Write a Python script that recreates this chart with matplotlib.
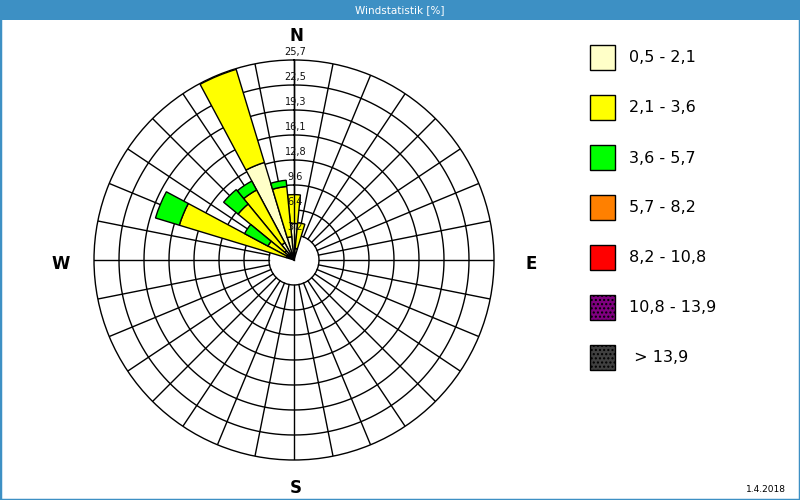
import numpy as np
import matplotlib
matplotlib.use("Agg")
import matplotlib.pyplot as plt
from matplotlib.patches import Rectangle

# ---- data ----
directions_deg = [0.0, 11.25, 348.75, 337.5, 326.25, 315.0, 303.75, 292.5]
class_labels = ["0,5 - 2,1", "2,1 - 3,6", "3,6 - 5,7", "5,7 - 8,2",
                "8,2 - 10,8", "10,8 - 13,9", " > 13,9"]
class_colors = ["#ffffc8", "#ffff00", "#00ff00", "#ff8000",
                "#ff0000", "#800080", "#404040"]
# percentage per class and direction (stacked)
cls_05_21 = [4.7, 1.5, 3.0, 13.1, 2.5, 1.5, 1.0, 1.0]
cls_21_36 = [3.7, 3.3, 6.5, 12.5, 7.7, 7.8, 2.8, 14.4]
cls_36_57 = [0.0, 0.0, 0.8, 0.0, 1.3, 2.4, 3.4, 3.2]
ring_labels = ["3,2", "6,4", "9,6", "12,8", "16,1", "19,3", "22,5", "25,7"]
r_max = 25.7
title = "Windstatistik [%]"
date_text = "1.4.2018"

W, H = 800, 500
fig = plt.figure(figsize=(8, 5), dpi=100)
fig.patch.set_facecolor("white")
blue = "#3d90c4"

# title bar
fig.add_artist(Rectangle((0, 1 - 20 / H), 1, 20 / H, transform=fig.transFigure,
                         facecolor=blue, edgecolor="none", zorder=0))
fig.text(0.5, 1 - 10 / H, title, color="white", ha="center", va="center",
         fontsize=7.5)
fig.add_artist(Rectangle((0, 0), 1, 1, transform=fig.transFigure,
                         facecolor="none", edgecolor=blue, lw=2.5, zorder=10))

cx, cy, R = 294, 260, 200
ax = fig.add_axes([(cx - R) / W, (H - cy - R) / H, 2 * R / W, 2 * R / H],
                  projection="polar")
ax.set_theta_zero_location("N")
ax.set_theta_direction(-1)
ax.set_ylim(0, r_max)
ax.grid(False)
ax.set_xticks([])
ax.set_yticks([])
ax.spines["polar"].set_linewidth(1.0)
ax.spines["polar"].set_color("black")

n_rings = len(ring_labels)
ring_vals = [r_max * (k + 1) / n_rings for k in range(n_rings)]
tt = np.linspace(0, 2 * np.pi, 721)
for rv in ring_vals[:-1]:
    ax.plot(tt, np.full_like(tt, rv), color="black", lw=1.0, zorder=1)
for k in range(32):
    th = np.deg2rad(k * 11.25)
    ax.plot([th, th], [ring_vals[0], r_max], color="black", lw=1.0, zorder=1)

# bars
theta = np.deg2rad(directions_deg)
width = np.deg2rad(11.25)
bottom = np.zeros(len(directions_deg))
for vals, col in zip([cls_05_21, cls_21_36, cls_36_57], class_colors):
    v = np.array(vals)
    mask = v > 0
    ax.bar(theta[mask], v[mask], width=width, bottom=bottom[mask], color=col,
           edgecolor="black", linewidth=1.0, zorder=3)
    bottom = bottom + v

# N axis line over bars
ax.plot([0, 0], [0, r_max], color="black", lw=1.0, zorder=4)

for rv, lbl in zip(ring_vals, ring_labels):
    ax.annotate(lbl, xy=(0, rv), xytext=(1, 2.5), textcoords="offset points",
                ha="center", va="bottom", fontsize=7, color="#101010",
                zorder=5, annotation_clip=False)

# compass labels
for txt, (px, py) in {"N": (296, 36), "S": (296, 488),
                      "W": (61, 264), "E": (531, 264)}.items():
    fig.text(px / W, 1 - py / H, txt, ha="center", va="center",
             fontsize=12, fontweight="bold")

# legend
for i, (lbl, col) in enumerate(zip(class_labels, class_colors)):
    y = 45 + 50 * i
    hatch = "...." if i >= 5 else None
    fig.add_artist(Rectangle((590 / W, 1 - (y + 25) / H), 25 / W, 25 / H,
                             transform=fig.transFigure, facecolor=col,
                             edgecolor="black", lw=1.0, hatch=hatch))
    fig.text(629 / W, 1 - (y + 13) / H, lbl, ha="left", va="center",
             fontsize=11.5)

fig.text(786 / W, 1 - 490 / H, date_text, ha="right", va="center",
         fontsize=6.5)

fig.savefig("out.png", dpi=100)
